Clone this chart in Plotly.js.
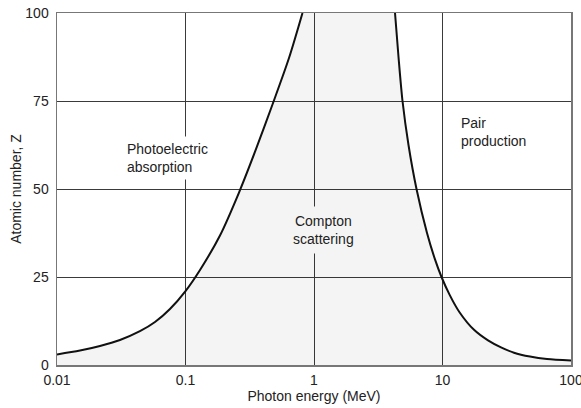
<!DOCTYPE html>
<html>
<head>
<meta charset="utf-8">
<script src="https://cdn.plot.ly/plotly-3.0.1.min.js"></script>
<style>html,body{margin:0;padding:0;background:#fff;}#chart{width:581px;height:408px;}</style>
</head>
<body>
<div id="chart"></div>
<script>
// Boundary between photoelectric absorption and Compton scattering
var leftEnergy = [0.01, 0.0151, 0.0216, 0.0309, 0.0442, 0.0579, 0.0757, 0.1, 0.1297, 0.1855, 0.2608, 0.3536, 0.4753, 0.6388, 0.8137];
var leftZ      = [3.0,  4.1,    5.4,    7.1,    9.6,    12.2,   15.9,   21.0, 27.0,  36.8,   49.0,   61.3,   74.0,   87.2,   100];
// Boundary between Compton scattering and pair production
var rightEnergy = [4.270, 4.546, 4.884, 5.438, 6.277, 7.576, 8.742, 9.822, 11.34, 13.56, 17.59, 22.61, 28.53, 36.00, 47.97, 65.06, 100];
var rightZ      = [100,   87.5,  75,    62.5,  50,    37.5,  30,    25,    20,    15,    10,    7,     5,     3.5,   2.4,   1.7,   1.3];

var xTicks = [0.01, 0.1, 1, 10, 100];
var xTickText = ['0.01', '0.1', '1', '10', '100'];
var yTicks = [0, 25, 50, 75, 100];

var regionLabels = ['Photoelectric<br>absorption', 'Compton<br>scattering', 'Pair<br>production'];

// Shaded region (Compton-dominant + area under curves)
var fillX = [xTicks[0]].concat(leftEnergy, rightEnergy, [xTicks[xTicks.length-1]]);
var fillY = [0].concat(leftZ, rightZ, [0]);

var font = 'Liberation Sans, Arial, Helvetica, sans-serif';

var traces = [
  {x: fillX, y: fillY, type: 'scatter', mode: 'lines', fill: 'toself',
   fillcolor: 'rgba(0,0,0,0.045)', line: {width: 0}, hoverinfo: 'skip'},
  {x: leftEnergy, y: leftZ, type: 'scatter', mode: 'lines',
   line: {color: '#111', width: 2, shape: 'spline', smoothing: 0.8}},
  {x: rightEnergy, y: rightZ, type: 'scatter', mode: 'lines',
   line: {color: '#111', width: 2, shape: 'spline', smoothing: 0.8}}
];

var layout = {
  width: 581, height: 408,
  margin: {l: 57, r: 10, t: 13, b: 43},
  paper_bgcolor: '#fff', plot_bgcolor: '#fff',
  showlegend: false,
  font: {family: font, size: 14, color: '#222'},
  xaxis: {
    type: 'log', range: [-2.000001, 2.000001],
    tickvals: xTicks, ticktext: xTickText, ticks: '',
    ticklabeloverflow: 'allow', ticklabelstandoff: 2,
    showgrid: true, gridcolor: '#3a3a3a', gridwidth: 1,
    showline: true, linecolor: '#777', linewidth: 1.5, mirror: true,
    zeroline: false,
    title: {text: 'Photon energy (MeV)', font: {size: 14, color: '#222'}, standoff: 3}
  },
  yaxis: {
    range: [0, 100], tickvals: yTicks, ticks: '',
    showgrid: true, gridcolor: '#3a3a3a', gridwidth: 1,
    showline: true, linecolor: '#777', linewidth: 1.5, mirror: true,
    zeroline: false, ticklabelstandoff: 4,
    title: {text: 'Atomic number, Z', font: {size: 14, color: '#222'}, standoff: 0}
  },
  annotations: [
    {x: -1.4965, y: 58.8, xref: 'x', yref: 'y', text: regionLabels[0], showarrow: false,
     xanchor: 'left', yanchor: 'middle', align: 'left', bgcolor: '#fff', borderpad: 4,
     font: {size: 14, color: '#222'}},
    {x: 0.0727, y: 38.3, xref: 'x', yref: 'y', text: regionLabels[1], showarrow: false,
     xanchor: 'center', yanchor: 'middle', align: 'center', bgcolor: '#f4f4f4', borderpad: 6,
     font: {size: 14, color: '#222'}},
    {x: 1.131, y: 66.3, xref: 'x', yref: 'y', text: regionLabels[2], showarrow: false,
     xanchor: 'left', yanchor: 'middle', align: 'left',
     font: {size: 14, color: '#222'}}
  ]
};

Plotly.newPlot('chart', traces, layout, {displayModeBar: false, staticPlot: true});
</script>
</body>
</html>
